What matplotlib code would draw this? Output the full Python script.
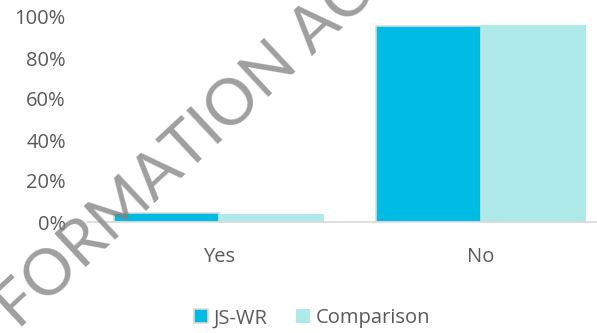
import matplotlib.pyplot as plt
import numpy as np

categories = ['Yes', 'No']
js_wr = [4.5, 95.5]
comparison = [4.0, 96.0]
series_names = ['JS-WR', 'Comparison']

plt.rcParams['font.family'] = ['Open Sans', 'DejaVu Sans']

fig = plt.figure(figsize=(5.97, 3.33), dpi=100)
ax = fig.add_axes([88 / 597, (333 - 222) / 333, (597 - 88) / 597, 205 / 333])

x = np.arange(len(categories))
w = 0.4
ax.bar(x - w / 2, js_wr, w, color='#00BCE4', edgecolor='#D9D9D9', linewidth=1.2, label=series_names[0])
ax.bar(x + w / 2, comparison, w, color='#AEEAEA', edgecolor='#AEEAEA', linewidth=0, label=series_names[1])

ax.set_ylim(0, 100)
ax.set_xlim(-0.5, 1.5 - 15 / 262)
ax.set_yticks(range(0, 101, 20))
ax.set_yticklabels([f'{v}%' for v in range(0, 101, 20)])
ax.set_xticks(x)
ax.set_xticklabels(categories)
ax.tick_params(length=0, labelsize=14.5, colors='#595959')
ax.tick_params(axis='y', pad=16)
ax.tick_params(axis='x', pad=18)
for s in ['top', 'right', 'left']:
    ax.spines[s].set_visible(False)
ax.spines['bottom'].set_color('#D9D9D9')
ax.spines['bottom'].set_linewidth(1.2)

ax.legend(loc='center', bbox_to_anchor=((312 - 88) / 509, -0.47),
          ncol=2, frameon=False, fontsize=14.5, handlelength=0.7, handleheight=0.7,
          handletextpad=0.3, columnspacing=1.4, labelcolor='#595959')

# watermark
fig.text(0.40, 0.70, 'FORMATION ACCESS', rotation=43, fontsize=46, color='#7F7F7F', alpha=0.75,
         ha='center', va='center', family=['Lato', 'DejaVu Sans'])

fig.savefig('out.png', dpi=100)
